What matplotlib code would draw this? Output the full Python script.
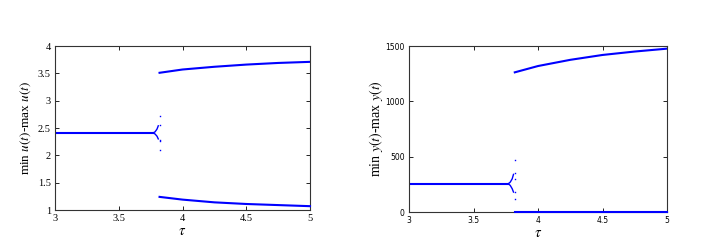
import matplotlib.pyplot as plt

plt.rcParams['font.family'] = 'serif'
plt.rcParams['font.serif'] = ['Liberation Serif', 'DejaVu Serif']
plt.rcParams['mathtext.fontset'] = 'stix'

# steady state branch
tau_steady = [3.0, 3.77]
u_steady = [2.41, 2.41]
y_steady = [255, 255]

# small cusp just before the jump
tau_cusp = [3.77, 3.785, 3.80, 3.81]
u_cusp_hi = [2.41, 2.43, 2.48, 2.54]
u_cusp_lo = [2.41, 2.39, 2.35, 2.30]
y_cusp_hi = [255, 270, 300, 340]
y_cusp_lo = [255, 240, 210, 180]

# scattered transient points
tau_scatter = [3.82, 3.82, 3.82, 3.82, 3.82]
u_scatter = [2.72, 2.56, 2.28, 2.26, 2.09]
y_scatter = [470, 350, 300, 180, 120]

# oscillation branch (min and max)
tau_osc = [3.82, 4.0, 4.25, 4.5, 4.75, 5.0]
u_max = [3.51, 3.57, 3.62, 3.66, 3.69, 3.71]
u_min = [1.24, 1.19, 1.14, 1.11, 1.09, 1.07]
y_max = [1262, 1319, 1375, 1419, 1450, 1476]
y_min = [3, 3, 3, 3, 3, 3]

blue = '#0000ff'
fig = plt.figure(figsize=(7.08, 2.46), dpi=100)
ax1 = fig.add_axes([55 / 708, 1 - 210 / 246, 255 / 708, 164 / 246])
ax2 = fig.add_axes([409 / 708, 1 - 212 / 246, 258 / 708, 166 / 246])

for ax, st, chi, clo, sc, mx, mn in [
    (ax1, u_steady, u_cusp_hi, u_cusp_lo, u_scatter, u_max, u_min),
    (ax2, y_steady, y_cusp_hi, y_cusp_lo, y_scatter, y_max, y_min),
]:
    ax.plot(tau_steady, st, color=blue, lw=1.5)
    ax.plot(tau_cusp, chi, color=blue, lw=1.0)
    ax.plot(tau_cusp, clo, color=blue, lw=1.0)
    ax.plot(tau_scatter, sc, 's', color=blue, ms=1.0, mew=0)
    ax.plot(tau_osc, mx, color=blue, lw=1.5)
    ax.plot(tau_osc, mn, color=blue, lw=1.5, clip_on=False, zorder=5)
    ax.set_xlim(3, 5)
    ax.set_xticks([3, 3.5, 4, 4.5, 5])
    ax.set_xticklabels(['3', '3.5', '4', '4.5', '5'])
    ax.tick_params(direction='in', top=True, right=True, length=3, width=0.6, pad=3)
    for s in ax.spines.values():
        s.set_linewidth(0.8)
        s.set_color('#333333')
    ax.set_xlabel(r'$\tau$', fontsize=10.5, labelpad=1)

ax1.set_ylim(1, 4)
ax1.set_yticks([1, 1.5, 2, 2.5, 3, 3.5, 4])
ax1.set_yticklabels(['1', '1.5', '2', '2.5', '3', '3.5', '4'])
ax1.tick_params(labelsize=7.5)
ax1.set_ylabel(r'min $u(t)$-max $u(t)$', fontsize=9.5)
ax1.yaxis.set_label_coords(-0.086, 0.5)

ax2.set_ylim(0, 1500)
ax2.set_yticks([0, 500, 1000, 1500])
ax2.tick_params(labelsize=5.5)
for lab in ax2.get_xticklabels() + ax2.get_yticklabels():
    lab.set_family('DejaVu Sans')
ax2.set_ylabel(r'min $y(t)$-max $y(t)$', fontsize=10)
ax2.yaxis.set_label_coords(-0.093, 0.5)

fig.savefig('out.png', dpi=100)
